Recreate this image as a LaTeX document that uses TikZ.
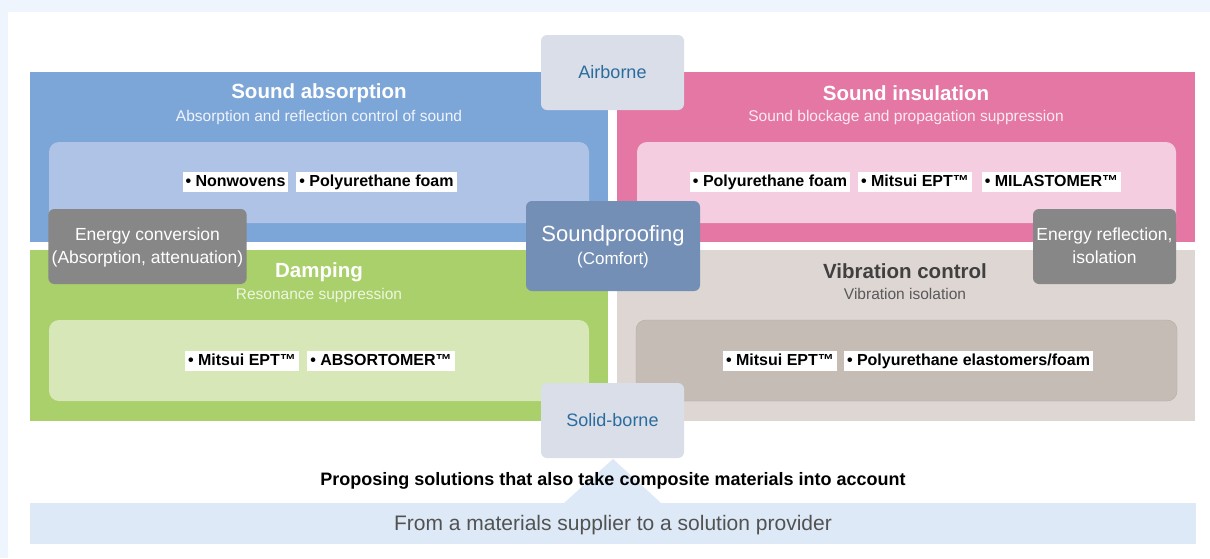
\documentclass[tikz,border=0pt]{standalone}
\usepackage{fontspec}
\setmainfont{Liberation Sans}
\usetikzlibrary{positioning}
\definecolor{pagebg}{HTML}{EEF5FC}
\definecolor{absblue}{HTML}{7DA6D8}
\definecolor{absinner}{HTML}{AEC3E6}
\definecolor{inspink}{HTML}{E477A4}
\definecolor{insinner}{HTML}{F4CDE0}
\definecolor{dampgreen}{HTML}{A9D06A}
\definecolor{dampinner}{HTML}{D7E7B8}
\definecolor{vibgray}{HTML}{DED6D3}
\definecolor{vibinner}{HTML}{C5BCB6}
\definecolor{vibline}{HTML}{B3A9A3}
\definecolor{energygray}{HTML}{878787}
\definecolor{proofblue}{HTML}{748FB5}
\definecolor{pathbox}{HTML}{D9DEE8}
\definecolor{pathtext}{HTML}{2B6C9E}
\definecolor{barblue}{HTML}{DDE9F6}
\newcommand{\pxfont}[1]{\fontsize{#1}{#1}\selectfont}
\tikzset{
  every picture/.style={line join=round, line cap=round},
  tag/.style={fill=white, font=\pxfont{16}\bfseries, inner xsep=3pt, inner ysep=0pt,
    text height=12pt, text depth=4pt, minimum height=20pt},
  title/.style={font=\pxfont{20.5}\bfseries, white},
  subtitle/.style={font=\pxfont{15.5}},
  energybox/.style={fill=energygray, rounded corners=6pt, text=white, align=center,
    font=\pxfont{17.5}, minimum height=75pt},
  pathnode/.style={fill=pathbox, rounded corners=6pt, text=pathtext, font=\pxfont{18},
    minimum width=143pt, minimum height=75pt},
}
\begin{document}
\begin{tikzpicture}[x=1pt,y=-1pt]
\useasboundingbox (0,0) rectangle (1210,558);
% background
\fill[pagebg] (0,0) rectangle (1210,558);
\fill[white] (8,12) rectangle (1210,558);
% four fields
\fill[absblue] (30,72) rectangle (608,242);
\fill[inspink] (617,72) rectangle (1195,242);
\fill[dampgreen] (30,250) rectangle (608,421);
\fill[vibgray] (617,250) rectangle (1195,421);
% inner boxes
\fill[absinner,rounded corners=10pt] (49,223) -- (49,142) -- (589,142) -- (589,223);
\fill[insinner,rounded corners=10pt] (637,223) -- (637,142) -- (1176,142) -- (1176,223);
\fill[dampinner,rounded corners=10pt] (49,320) rectangle (589,401);
\draw[vibline,fill=vibinner,rounded corners=10pt] (636,320) rectangle (1177,401);
% titles
\node[title] (absTitle) at (319,93) {Sound absorption};
\node[subtitle,text=white!88!absblue] (absSub) at (319,117) {Absorption and reflection control of sound};
\node[title] (insTitle) at (906,93) {Sound insulation};
\node[subtitle,text=white!85!inspink] (insSub) at (906,117) {Sound blockage and propagation suppression};
\node[title] (dampTitle) at (319,272) {Damping};
\node[subtitle,text=white!80!dampgreen] (dampSub) at (319,295) {Resonance suppression};
\node[title,text=black!75] (vibTitle) at (905,271) {Vibration control};
\node[subtitle,text=black!65] (vibSub) at (905,294) {Vibration isolation};
% materials
\node[tag] (nonwov) at (235.5,182) {• Nonwovens};
\node[tag] (puFoamA) at (376.5,182) {• Polyurethane foam};
\node[tag] (puFoamB) at (770,182) {• Polyurethane foam};
\node[tag] (eptA) at (915,182) {• Mitsui EPT™};
\node[tag] (milast) at (1051.5,182) {• MILASTOMER™};
\node[tag] (eptB) at (242,361) {• Mitsui EPT™};
\node[tag] (absort) at (381,361) {• ABSORTOMER™};
\node[tag] (eptC) at (780,361) {• Mitsui EPT™};
\node[tag] (puElast) at (968.5,361) {• Polyurethane elastomers/foam};
% mechanisms
\node[energybox,minimum width=197pt,text depth=2pt] (convert) at (147.5,246.5) {Energy conversion\\[5pt](Absorption, attenuation)};
\node[energybox,minimum width=143pt,text depth=2pt] (reflect) at (1104.5,246.5) {Energy reflection,\\[5pt]isolation};
\node[fill=proofblue,rounded corners=6pt,text=white,align=center,minimum width=174pt,minimum height=90pt,text depth=2pt] (proof) at (613,246)
  {\pxfont{22}Soundproofing\\[6pt]\pxfont{17}(Comfort)};
\node[pathnode,text depth=1pt] (airborne) at (612.5,72.5) {Airborne};
% bottom
\fill[barblue] (30,503) rectangle (1196,544);
\fill[barblue] (564,503) -- (613,459) -- (661,503) -- cycle;
\node[pathnode,text depth=1pt] (solid) at (612.5,420.5) {Solid-borne};
\node[font=\pxfont{18}\bfseries] (propose) at (613,481) {Proposing solutions that also take composite materials into account};
\node[font=\pxfont{21},text=black!68] (provider) at (613,525) {From a materials supplier to a solution provider};
\end{tikzpicture}
\end{document}
